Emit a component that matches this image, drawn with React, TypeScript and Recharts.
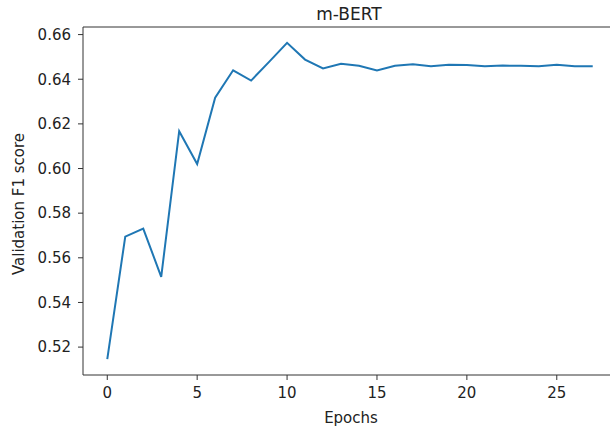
import React from 'react';
import { LineChart, Line, XAxis, YAxis, ReferenceLine } from 'recharts';

const epochs = [0, 1, 2, 3, 4, 5, 6, 7, 8, 9, 10, 11, 12, 13, 14, 15, 16, 17, 18, 19, 20, 21, 22, 23, 24, 25, 26, 27];
const f1Scores = [
  0.5146, 0.5695, 0.5731, 0.5515, 0.6167, 0.6020, 0.6317, 0.6440, 0.6394, 0.6478,
  0.6563, 0.6488, 0.6448, 0.6469, 0.6460, 0.6439, 0.6460, 0.6467, 0.6458, 0.6465,
  0.6464, 0.6458, 0.6461, 0.6460, 0.6458, 0.6465, 0.6458, 0.6458,
];
const xTicks = [0, 5, 10, 15, 20, 25];
const yTicks = [0.52, 0.54, 0.56, 0.58, 0.6, 0.62, 0.64, 0.66];
const yDomain = [0.5075, 0.6634];

const data = epochs.map((e, i) => ({ epoch: e, f1: f1Scores[i] }));

const font = '"DejaVu Sans", sans-serif';
const axisColor = '#333';
const textColor = '#222';

export default function App() {
  return (
    <div style={{ position: 'absolute', left: 0, top: 0, width: 610, height: 429, background: '#fff', fontFamily: font }}>
      <LineChart width={610} height={429} data={data} margin={{ top: 27, right: -7, left: 0, bottom: 0 }}>
        <XAxis
          dataKey="epoch"
          type="number"
          domain={[-1.35, 28.35]}
          ticks={xTicks}
          allowDataOverflow
          height={54}
          stroke={axisColor}
          tickSize={5}
          tickMargin={7}
          tick={{ fill: textColor, fontSize: 15, fontFamily: font }}
        />
        <YAxis
          type="number"
          domain={yDomain}
          ticks={yTicks}
          allowDataOverflow
          width={83}
          stroke={axisColor}
          tickSize={5}
          tickMargin={7}
          tickFormatter={(v: number) => v.toFixed(2)}
          tick={{ fill: textColor, fontSize: 15, fontFamily: font }}
        />
        {/* top spine */}
        <ReferenceLine y={yDomain[1]} stroke={axisColor} ifOverflow="extendDomain" />
        <Line type="linear" dataKey="f1" stroke="#1f77b4" strokeWidth={2} dot={false} isAnimationActive={false} />
      </LineChart>
      <div style={{ position: 'absolute', left: 349, top: 4, transform: 'translateX(-50%)', fontSize: 17, color: textColor, whiteSpace: 'nowrap' }}>m-BERT</div>
      <div style={{ position: 'absolute', left: 351, top: 409, transform: 'translateX(-50%)', fontSize: 15, color: textColor, whiteSpace: 'nowrap' }}>Epochs</div>
      <div style={{ position: 'absolute', left: 19, top: 204, transform: 'translate(-50%, -50%) rotate(-90deg)', fontSize: 15, color: textColor, whiteSpace: 'nowrap' }}>Validation F1 score</div>
    </div>
  );
}
